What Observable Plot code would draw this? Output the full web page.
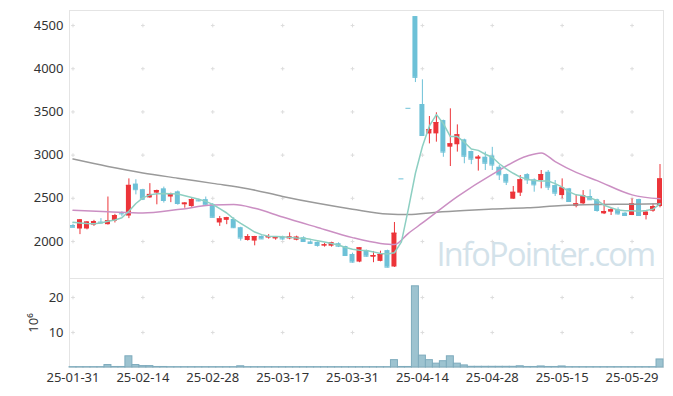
<!DOCTYPE html>
<html><head><meta charset="utf-8">
<script src="https://cdn.jsdelivr.net/npm/d3@7"></script>
<script src="https://cdn.jsdelivr.net/npm/@observablehq/plot@0.6"></script>
<style>body{margin:0;background:#fff} svg{display:block}</style>
</head><body><div id="chart"></div>
<script>
const dates = ["2025-01-31","2025-02-03","2025-02-04","2025-02-05","2025-02-06","2025-02-07","2025-02-10","2025-02-11","2025-02-12","2025-02-13",
"2025-02-14","2025-02-17","2025-02-18","2025-02-19","2025-02-20","2025-02-21","2025-02-24","2025-02-25","2025-02-26","2025-02-27",
"2025-02-28","2025-03-04","2025-03-05","2025-03-06","2025-03-07","2025-03-10","2025-03-11","2025-03-12","2025-03-13","2025-03-14",
"2025-03-17","2025-03-18","2025-03-19","2025-03-20","2025-03-21","2025-03-24","2025-03-25","2025-03-26","2025-03-27","2025-03-28",
"2025-03-31","2025-04-01","2025-04-02","2025-04-03","2025-04-04","2025-04-07","2025-04-08","2025-04-09","2025-04-10","2025-04-11",
"2025-04-14","2025-04-15","2025-04-16","2025-04-17","2025-04-18","2025-04-21","2025-04-22","2025-04-23","2025-04-24","2025-04-25",
"2025-04-28","2025-04-29","2025-04-30","2025-05-02","2025-05-07","2025-05-08","2025-05-09","2025-05-12","2025-05-13","2025-05-14",
"2025-05-15","2025-05-16","2025-05-19","2025-05-20","2025-05-21","2025-05-22","2025-05-23","2025-05-26","2025-05-27","2025-05-28",
"2025-05-29","2025-05-30","2025-06-02","2025-06-04","2025-06-05"];

const open  = [2185,2145,2145,2190,2225,2195,2235,2330,2295,2665, 2600,2505,2560,2610,2515,2575,2425,2405,2480,2485,
               2425,2215,2245,2255,2160,2012,2005,2060,2040,2030, 2050,2030,2015,2043,1995,1990,1948,1946,1975,1942,
               1850,1762,1895,1818,1770,1895,1705,2725,3542,4604, 3586,3245,3246,3400,3092,3120,3177,3042,2953,2976,
               2990,2860,2775,2490,2560,2775,2714,2706,2802,2648, 2532,2610,2405,2436,2521,2483,2320,2340,2367,2328,
               2301,2486,2301,2351,2405];
const high  = [2200,2255,2230,2245,2265,2515,2315,2345,2725,2715, 2605,2670,2595,2630,2560,2585,2450,2500,2490,2515,
               2440,2290,2280,2275,2165,2080,2060,2065,2080,2058, 2062,2100,2062,2055,2008,1995,1980,1992,1985,1945,
               1865,1930,1900,1885,1888,1900,2220,2725,3542,4604, 3872,3447,3490,3405,3536,3350,3185,3045,2995,3035,
               3090,2880,2780,2637,2764,2785,2725,2822,2822,2706, 2725,2615,2544,2590,2598,2490,2475,2390,2390,2335,
               2494,2490,2345,2436,2891];
const low   = [2160,2080,2135,2175,2205,2190,2215,2285,2265,2540, 2475,2500,2425,2445,2450,2420,2385,2395,2460,2415,
               2275,2175,2195,2150,2005,2005,1950,2025,2027,2015, 2015,2020,2008,1990,1970,1935,1935,1935,1930,1830,
               1750,1755,1820,1755,1765,1695,1700,2725,3542,3840, 3227,3130,3150,2975,2868,3035,2900,2890,2815,2822,
               2822,2706,2648,2488,2521,2660,2571,2610,2590,2521, 2494,2455,2390,2428,2475,2339,2312,2301,2305,2298,
               2300,2298,2250,2339,2390];
const close = [2165,2250,2225,2230,2215,2240,2300,2320,2650,2600, 2490,2545,2590,2475,2545,2440,2445,2485,2470,2420,
               2280,2262,2275,2160,2040,2058,2058,2030,2058,2050, 2030,2053,2050,2000,1978,1955,1962,1985,1946,1838,
               1762,1927,1830,1838,1850,1703,2096,2725,3542,3900, 3227,3296,3377,3035,3131,3235,2987,2953,2976,2906,
               2885,2772,2688,2570,2714,2714,2656,2775,2630,2560, 2621,2463,2436,2532,2483,2359,2347,2367,2320,2301,
               2436,2301,2339,2405,2725];
// volume in millions of shares
const volume = [0.1,0.1,0.1,0.1,0.1,0.7,0.15,0.15,3.2,0.7, 0.4,0.4,0.15,0.15,0.1,0.1,0.1,0.1,0.1,0.1,
                0.1,0.1,0.1,0.1,0.35,0.1,0.1,0.1,0.1,0.1, 0.1,0.1,0.1,0.1,0.1,0.1,0.1,0.1,0.1,0.1,
                0.1,0.1,0.1,0.1,0.1,0.1,2.1,0.15,0.15,23.2, 3.4,2.1,1.1,1.8,3.2,1.1,0.6,0.2,0.2,0.2,
                0.2,0.2,0.2,0.2,0.35,0.15,0.15,0.3,0.15,0.15, 0.3,0.1,0.1,0.1,0.1,0.1,0.1,0.1,0.1,0.1,
                0.1,0.1,0.1,0.1,2.3];
// 5-day moving average (teal)
const ma5 = [2222,2215,2208,2205,2215,2235,2250,2275,2350,2440, 2505,2540,2552,2555,2552,2550,2530,2510,2490,2465,
             2430,2380,2330,2263,2210,2160,2110,2080,2062,2058, 2055,2048,2042,2038,2025,2010,1995,1978,1960,1930,
             1910,1900,1896,1880,1862,1855,1870,1995,2380,2790, 3100,3338,3470,3365,3215,3215,3150,3070,3055,3010,
             2975,2900,2840,2790,2745,2720,2705,2700,2700,2670, 2630,2575,2540,2530,2505,2475,2420,2390,2365,2355,
             2355,2350,2360,2375,2436];
// 20-day moving average (pink), read at these day indices
const ma20Idx = [0,5,10,15,20,23,26,30,35,40,44,46,48,50,55,60,65,67,69,72,75,80,84];
const ma20Val = [2362,2345,2330,2370,2422,2428,2385,2283,2163,2045,1978,1965,2095,2215,2520,2778,2990,3025,2925,2800,2705,2540,2494];
// 60-day moving average (gray), read at these day indices
const ma60Idx = [0,5,10,15,20,25,30,35,40,45,48,52,56,60,65,70,75,80,84];
const ma60Val = [2955,2869,2794,2733,2673,2612,2522,2442,2374,2318,2312,2340,2360,2375,2390,2417,2428,2432,2436];

const yTicksTop = [2000,2500,3000,3500,4000,4500];
const yTicksVol = [10,20];

const RED = "#ec3439", BLUE = "#6dc1d7";
const rows = dates.map((d,i)=>({date:d, open:open[i], high:high[i], low:low[i], close:close[i],
  vol:volume[i], ma5:ma5[i], col: close[i] > open[i] ? RED : BLUE}));
const ma20 = ma20Idx.map((k,j)=>({date:dates[k], v:ma20Val[j]}));
const ma60 = ma60Idx.map((k,j)=>({date:dates[k], v:ma60Val[j]}));
const tickDates = dates.filter((d,i)=>i%10===0);
const crossTop = tickDates.flatMap(d=>yTicksTop.map(v=>({date:d,v})));
const crossVol = tickDates.flatMap(d=>yTicksVol.map(v=>({date:d,v})));

const style = {fontFamily:"'Noto Sans', sans-serif", fontSize:"13px", color:"#333", background:"#fff", overflow:"visible"};

const topChart = Plot.plot({
  width:673, height:278, marginTop:10, marginBottom:0, marginLeft:69, marginRight:10,
  style,
  x:{type:"band", domain:dates, padding:0, axis:null},
  y:{domain:[1572,4674]},
  color:{type:"identity"},
  marks:[
    Plot.frame({stroke:"#e4e4e4"}),
    Plot.dot(crossTop,{x:"date", y:"v", symbol:"plus", r:1.3, stroke:"#dddddd", strokeWidth:1}),
    Plot.text(["InfoPointer.com"],{frameAnchor:"bottom-right", textAnchor:"end", lineAnchor:"bottom",
      dx:-9, dy:-13, fontSize:32.5, fill:"#d3e2ea", fontFamily:"'Open Sans', sans-serif", className:"wm"}),
    Plot.axisY({ticks:yTicksTop, tickFormat:d=>String(d), tickSize:0, tickPadding:6, label:null}),
    Plot.ruleX(rows,{x:"date", y1:"low", y2:"high", stroke:"col", strokeWidth:1}),
    Plot.barY(rows,{x:"date", y1:"open", y2:"close", fill:"col", insetLeft:1, insetRight:1}),
    Plot.tickY(rows,{x:"date", y:"close", stroke:"col", insetLeft:1, insetRight:1}),
    Plot.line(ma60,{x:"date", y:"v", stroke:"#9a9a9a", strokeWidth:1.5, curve:"monotone-x"}),
    Plot.line(ma20,{x:"date", y:"v", stroke:"#cb8fc3", strokeWidth:1.5, curve:"monotone-x"}),
    Plot.line(rows,{x:"date", y:"ma5", stroke:"#8dcfc2", strokeWidth:1.5})
  ]
});

const volChart = Plot.plot({
  width:673, height:118, marginTop:0, marginBottom:29, marginLeft:69, marginRight:10,
  style,
  x:{type:"band", domain:dates, padding:0},
  y:{domain:[0,25.43]},
  marks:[
    Plot.frame({stroke:"#e4e4e4"}),
    Plot.dot(crossVol,{x:"date", y:"v", symbol:"plus", r:1.3, stroke:"#dddddd", strokeWidth:1}),
    Plot.barY(rows,{x:"date", y:"vol", fill:"#9dc3d0", stroke:"#7eabbd", strokeWidth:1}),
    Plot.axisY({ticks:yTicksVol, tickFormat:d=>String(d), tickSize:0, tickPadding:6, label:"10⁶", labelAnchor:"center", labelOffset:41, labelArrow:"none"}),
    Plot.axisX({ticks:tickDates, tickFormat:d=>d.slice(2), tickSize:0, tickPadding:5, label:null})
  ]
});

d3.select(topChart).select("g.wm").style("letter-spacing", "-1.7px");

const host = document.getElementById("chart");
host.appendChild(topChart);
host.appendChild(volChart);
</script>
</body></html>
